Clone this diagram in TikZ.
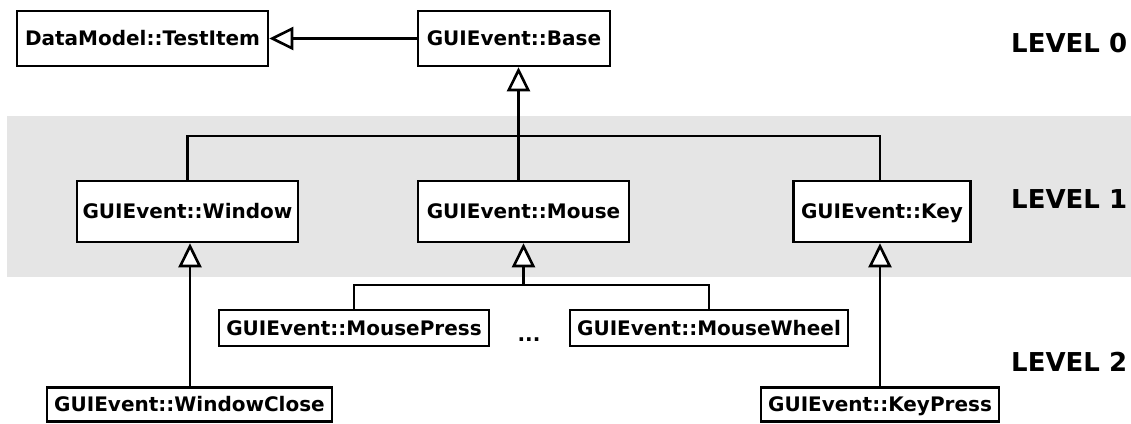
\documentclass[tikz,border=0pt]{standalone}
\usepackage{fontspec}
\setmainfont{DejaVu Sans}
\usetikzlibrary{arrows.meta}
\definecolor{bandgray}{RGB}{229,229,229}
\tikzset{
  cls/.style={draw, line width=2.6pt, fill=white, inner sep=0pt,
    font=\fontsize{20}{24}\selectfont\bfseries,
    text height=14.6pt, text depth=0pt},
  lvl/.style={anchor=west, inner sep=0pt,
    font=\fontsize{26}{30}\selectfont\bfseries,
    text height=19pt, text depth=0pt},
  inh/.style={line width=2.6pt, -{Triangle[length=24pt, width=23pt, fill=white]}},
  wire/.style={line width=2.6pt},
}
\begin{document}
\begin{tikzpicture}[x=1pt, y=-1pt]
\useasboundingbox (0,0) rectangle (1131,423);
% shaded band behind the first level
\fill[bandgray] (7,116) rectangle (1131,277);

% level 0
\node[cls, minimum width=251pt, minimum height=55pt] (testitem) at (142.5,38.5) {DataModel::TestItem};
\node[cls, minimum width=192pt, minimum height=55pt] (base) at (514,38.5) {GUIEvent::Base};

% level 1
\node[cls, minimum width=221pt, minimum height=61pt] (window) at (187.5,211.5) {GUIEvent::Window};
\node[cls, minimum width=211pt, minimum height=61pt] (mouse) at (523.5,211.5) {GUIEvent::Mouse};
\node[cls, minimum width=177pt, minimum height=61pt] (key) at (882,211.5) {GUIEvent::Key};

% level 2
\node[cls, minimum width=270pt, minimum height=36pt] (mpress) at (354,328) {GUIEvent::MousePress};
\node[cls, minimum width=278pt, minimum height=36pt] (mwheel) at (709,328) {GUIEvent::MouseWheel};
\node[inner sep=0pt, font=\fontsize{20}{24}\selectfont\bfseries] (dots) at (529,340) {...};
\node[cls, minimum width=285pt, minimum height=34pt] (wclose) at (189.5,404.5) {GUIEvent::WindowClose};
\node[cls, minimum width=238pt, minimum height=34pt] (kpress) at (880,404.5) {GUIEvent::KeyPress};

% level labels
\node[lvl] (lv0) at (1011,42.5) {LEVEL 0};
\node[lvl] (lv1) at (1011,199) {LEVEL 1};
\node[lvl] (lv2) at (1011,362) {LEVEL 2};

% junction points of the shared lines
\coordinate (j0) at (518.5,136);
\coordinate (j1) at (523.5,285);

% inheritance connectors
\draw[inh] (base.west) -- (testitem.east);
\draw[wire] (window.north) |- (j0) -| (key.north -| kpress.north);
\draw[wire] (j0) -- (j0 |- mouse.north);
\draw[inh] (j0) -- (j0 |- base.south);
\draw[wire] (mpress.north) |- (j1) -| (mwheel.north);
\draw[inh] (j1) -- (j1 |- mouse.south);
\draw[inh] (wclose.north -| 190,0) -- (window.south -| 190,0);
\draw[inh] (kpress.north) -- (kpress.north |- key.south);
\end{tikzpicture}
\end{document}
